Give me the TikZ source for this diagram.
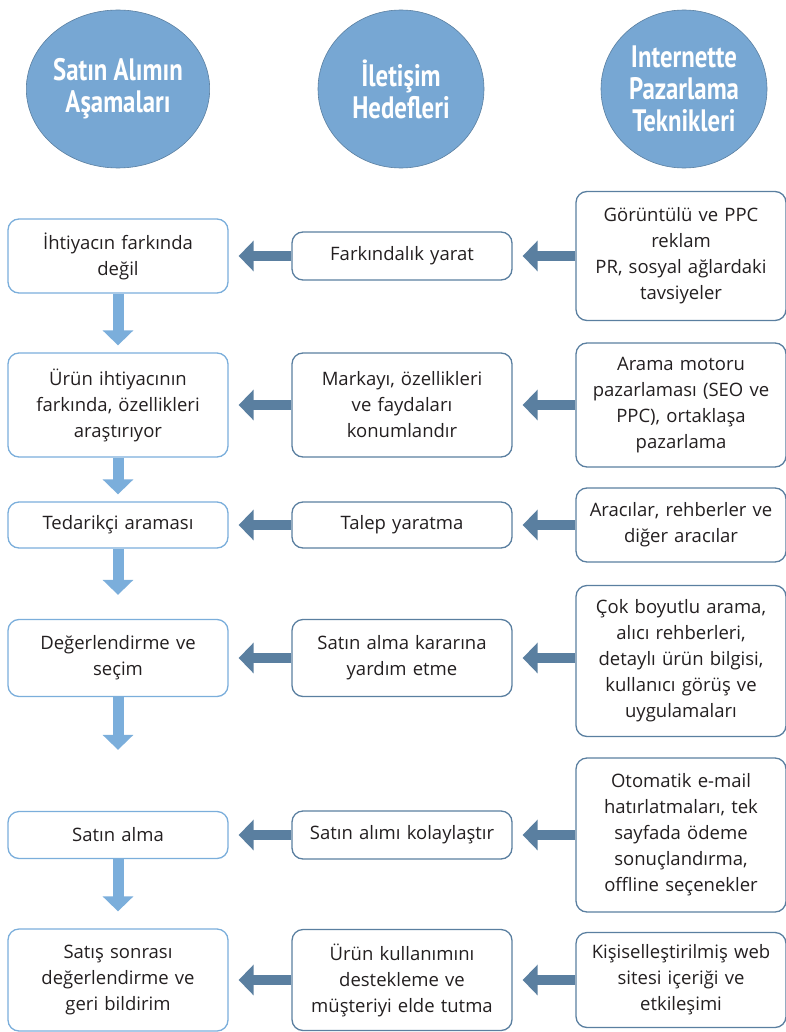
\documentclass[tikz,border=0pt]{standalone}
\usepackage{fontspec}
\setmainfont{Open Sans}
\newfontfamily\headfont[FakeStretch=0.8]{PT Sans}
\usetikzlibrary{arrows.meta,shapes.geometric}
\definecolor{headblue}{HTML}{77A7D3}
\definecolor{darkline}{HTML}{5A7FA0}
\definecolor{lightline}{HTML}{7BAEDB}
\definecolor{txt}{HTML}{231F20}
\tikzset{
  head/.style={ellipse,fill=headblue,draw=darkline,line width=0.6pt,minimum width=166pt,minimum height=158pt,
    text=white,font=\headfont\bfseries\fontsize{31}{32}\selectfont,align=center,inner sep=0pt},
  box/.style={rounded corners=11pt,line width=1.3pt,align=center,text=txt,
    font=\fontsize{18.5}{26}\selectfont,inner sep=2pt},
  stage/.style={box,draw=lightline,minimum width=220pt,text width=214pt},
  goal/.style={box,draw=darkline,minimum width=220pt,text width=214pt},
  tech/.style={box,draw=darkline,minimum width=210pt,text width=206pt},
  leftarr/.style={draw=darkline,line width=10pt,-{Triangle[width=30pt,length=15pt]},shorten >=10pt},
  downarr/.style={draw=lightline,line width=11pt,-{Triangle[width=30pt,length=15pt]}}
}
\begin{document}
\begin{tikzpicture}
\useasboundingbox (0,0) rectangle (786pt,-1032pt);
% headings
\node[head] (h1) at (118pt,-89pt) {Satın Alımın\\Aşamaları};
\node[head] (h2) at (401pt,-89pt) {İletişim\\Hedefleri};
\node[head] (h3) at (684pt,-89pt) {Internette\\Pazarlama\\Teknikleri};
% purchase stages
\node[stage,minimum height=74pt] (s1) at (118pt,-256pt) {İhtiyacın farkında\\değil};
\node[stage,minimum height=104pt] (s2) at (118pt,-405pt) {Ürün ihtiyacının\\farkında, özellikleri\\araştırıyor};
\node[stage,minimum height=46pt] (s3) at (118pt,-525pt) {Tedarikçi araması};
\node[stage,minimum height=77pt] (s4) at (118pt,-658pt) {Değerlendirme ve\\seçim};
\node[stage,minimum height=47pt] (s5) at (118pt,-835pt) {Satın alma};
\node[stage,minimum height=102pt] (s6) at (118pt,-980pt) {Satış sonrası\\değerlendirme ve\\geri bildirim};
% communication goals
\node[goal,minimum height=48pt] (g1) at (402pt,-256pt) {Farkındalık yarat};
\node[goal,minimum height=104pt] (g2) at (402pt,-405pt) {Markayı, özellikleri\\ve faydaları\\konumlandır};
\node[goal,minimum height=46pt] (g3) at (402pt,-525pt) {Talep yaratma};
\node[goal,minimum height=77pt] (g4) at (402pt,-658pt) {Satın alma kararına\\yardım etme};
\node[goal,minimum height=48pt] (g5) at (402pt,-835pt) {Satın alımı kolaylaştır};
\node[goal,minimum height=101pt] (g6) at (402pt,-980pt) {Ürün kullanımını\\destekleme ve\\müşteriyi elde tutma};
% internet marketing techniques
\node[tech,minimum height=129pt] (t1) at (681pt,-256pt) {Görüntülü ve PPC\\reklam\\PR, sosyal ağlardaki\\tavsiyeler};
\node[tech,minimum height=124pt] (t2) at (681pt,-405pt) {Arama motoru\\pazarlaması (SEO ve\\PPC), ortaklaşa\\pazarlama};
\node[tech,minimum height=74pt] (t3) at (681pt,-525pt) {Aracılar, rehberler ve\\diğer aracılar};
\node[tech,minimum height=151pt] (t4) at (681pt,-661pt) {Çok boyutlu arama,\\alıcı rehberleri,\\detaylı ürün bilgisi,\\kullanıcı görüş ve\\uygulamaları};
\node[tech,minimum height=154pt] (t5) at (681pt,-835pt) {Otomatik e-mail\\hatırlatmaları, tek\\sayfada ödeme\\sonuçlandırma,\\offline seçenekler};
\node[tech,minimum height=95pt] (t6) at (681pt,-980pt) {Kişiselleştirilmiş web\\sitesi içeriği ve\\etkileşimi};
% arrows
\foreach \i in {1,...,6} {
  \draw[leftarr] (g\i.west) -- (s\i.east);
  \draw[leftarr] (t\i.west |- g\i.east) -- (g\i.east);
}
\foreach \a/\b/\s in {s1/s2/7pt,s2/s3/7pt,s3/s4/24pt,s4/s5/61pt,s5/s6/17pt}
  \draw[downarr,shorten >=\s] (\a.south) -- (\b.north);
\end{tikzpicture}
\end{document}
